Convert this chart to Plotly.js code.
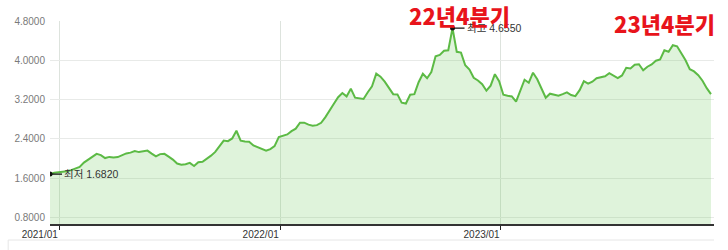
<!DOCTYPE html>
<html><head><meta charset="utf-8">
<script src="https://cdn.plot.ly/plotly-3.0.1.min.js"></script>
<style>html,body{margin:0;padding:0;background:#fff;}#chart{width:728px;height:250px;}</style>
</head><body><div id="chart"></div>
<script>
// Weekly series start date (first observation) and step
const startDate = '2020-12-17';
const stepDays = 7;
// Weekly values
const values = [
1.682,1.709,1.720,1.726,1.738,1.762,1.795,1.827,1.915,1.972,
2.035,2.092,2.068,2.007,2.031,2.021,2.027,2.068,2.102,2.118,
2.149,2.129,2.143,2.159,2.098,2.041,2.088,2.094,2.037,1.976,
1.895,1.872,1.880,1.909,1.844,1.921,1.933,1.992,2.057,2.133,
2.251,2.363,2.352,2.407,2.564,2.363,2.344,2.342,2.265,2.230,
2.206,2.157,2.190,2.251,2.434,2.464,2.489,2.556,2.607,2.729,
2.729,2.688,2.668,2.678,2.725,2.841,2.993,3.115,3.248,3.333,
3.264,3.421,3.237,3.231,3.211,3.349,3.471,3.726,3.665,3.563,
3.441,3.309,3.305,3.136,3.119,3.298,3.309,3.553,3.726,3.634,
3.760,4.082,4.108,4.194,4.204,4.655,4.173,4.157,3.899,3.811,
3.644,3.589,3.512,3.380,3.482,3.716,3.573,3.298,3.278,3.264,
3.156,3.370,3.604,3.543,3.746,3.614,3.441,3.237,3.319,3.298,
3.278,3.309,3.345,3.292,3.268,3.390,3.573,3.522,3.563,3.634,
3.655,3.675,3.736,3.695,3.638,3.691,3.848,3.834,3.909,3.919,
3.797,3.868,3.915,3.990,4.017,4.204,4.173,4.306,4.285,4.143,
4.000,3.817,3.773,3.695,3.583,3.431,3.309
];
const xTickVals = ['2021-01-01','2022-01-01','2023-01-01'];
const xTickText = ['2021/01','2022/01','2023/01'];
const yTickVals = [0.8,1.6,2.4,3.2,4.0,4.8];
const yTickText = ['0.8000','1.6000','2.4000','3.2000','4.0000','4.8000'];
const minLabel = '최저';
const maxLabel = '최고';
const callouts = ['22년4분기','23년4분기'];

const dates = [];
const t0 = Date.parse(startDate + 'T00:00:00Z');
for (let i = 0; i < values.length; i++) {
  dates.push(new Date(t0 + i*stepDays*86400000).toISOString().slice(0,10));
}
let iMin = 0, iMax = 0;
values.forEach((v,i)=>{ if (v < values[iMin]) iMin = i; if (v > values[iMax]) iMax = i; });

const F = 'Liberation Sans, Arial, Noto Sans CJK KR, sans-serif';
const KF = 'Liberation Sans, Noto Sans CJK KR, sans-serif';

const traces = [
  {x: dates, y: values, type:'scatter', mode:'lines', line:{color:'#5cba45', width:2},
   fill:'tozeroy', fillcolor:'rgba(110,200,90,0.22)', hoverinfo:'skip'},
  {x:[dates[iMin], dates[iMax]], y:[values[iMin], values[iMax]], type:'scatter', mode:'markers',
   marker:{color:'#111', size:5}, hoverinfo:'skip'}
];

const layout = {
  width:728, height:250, showlegend:false,
  margin:{l:50, r:14, t:21, b:26, pad:0},
  paper_bgcolor:'#fff', plot_bgcolor:'#fff',
  font:{family:F, size:10, color:'#333'},
  xaxis:{type:'date', range:['2020-12-17','2023-12-19'], tickvals:xTickVals, ticktext:xTickText,
    ticks:'outside', ticklen:4, tickcolor:'#222', tickwidth:1, ticklabelposition:'outside left',
    showgrid:true, gridcolor:'#dde3dd', gridwidth:1, showline:true, linecolor:'#333', linewidth:1.5,
    zeroline:false, tickfont:{family:F, size:10, color:'#333'}, fixedrange:true},
  yaxis:{range:[0.664, 4.8], tickvals:yTickVals, ticktext:yTickText, showgrid:true,
    gridcolor:'#e8eae8', gridwidth:1, zeroline:false, showline:false, ticks:'',
    ticklabelstandoff:4, tickfont:{family:F, size:10, color:'#7a7a7a'}, fixedrange:true},
  shapes:[
    {type:'line', xref:'paper', yref:'paper', x0:-0.063, x1:1.0, y0:-0.079, y1:-0.079,
     line:{color:'#e6e6e6', width:1}},
    {type:'line', xref:'paper', yref:'paper', x0:-0.063, x1:-0.063, y0:-0.079, y1:-0.2,
     line:{color:'#e6e6e6', width:1}}
  ],
  annotations:[
    {x:dates[iMin], y:values[iMin], xref:'x', yref:'y', text:minLabel+' '+values[iMin].toFixed(4),
     showarrow:true, arrowhead:0, arrowwidth:1.3, arrowcolor:'#111', ax:12, ay:0,
     xanchor:'left', yanchor:'middle', font:{family:KF, size:10.5, color:'#333'}},
    {x:dates[iMax], y:values[iMax], xref:'x', yref:'y', text:maxLabel+' '+values[iMax].toFixed(4),
     showarrow:true, arrowhead:0, arrowwidth:1.3, arrowcolor:'#111', ax:12, ay:0,
     xanchor:'left', yanchor:'middle', font:{family:KF, size:10.5, color:'#333'}},
    {x:0.616, y:1.03, xref:'paper', yref:'paper', text:callouts[0], showarrow:false,
     xanchor:'center', yanchor:'middle', font:{family:'Noto Sans CJK KR, sans-serif', size:22, weight:900, color:'#e8141b'}},
    {x:0.926, y:0.99, xref:'paper', yref:'paper', text:callouts[1], showarrow:false,
     xanchor:'center', yanchor:'middle', font:{family:'Noto Sans CJK KR, sans-serif', size:22, weight:900, color:'#e8141b'}}
  ]
};
Plotly.newPlot('chart', traces, layout, {displayModeBar:false, staticPlot:true});
</script></body></html>
